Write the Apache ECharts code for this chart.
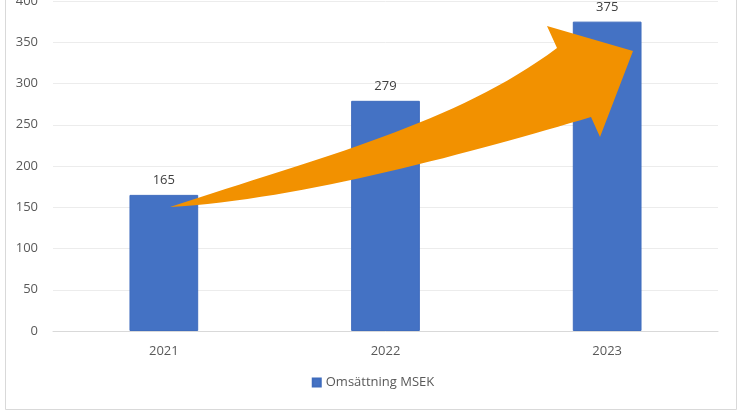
<!DOCTYPE html>
<html>
<head>
<meta charset="utf-8">
<script src="https://cdn.jsdelivr.net/npm/echarts@6/dist/echarts.min.js"></script>
<style>html,body{margin:0;padding:0;background:#fff;}#c{width:746px;height:419px;}</style>
</head>
<body>
<div id="c"></div>
<script>
const categories = ['2021', '2022', '2023'];
const revenue = [165, 279, 375];
const seriesName = 'Omsättning MSEK';
const yTicks = { min: 0, max: 400, interval: 50 };

const arrowPath = 'M170,207 C320,157.5 457,123 557,48 L547,26 L633,51 L600,137 L591,117 C480,150 300,200 170,207 Z';

const chart = echarts.init(document.getElementById('c'), null, { renderer: 'canvas' });
const font = '"Open Sans", "DejaVu Sans", sans-serif';
chart.setOption({
  animation: false,
  backgroundColor: '#ffffff',
  textStyle: { fontFamily: font },
  grid: { left: 53, right: 28, top: 1, bottom: 88, containLabel: false, outerBoundsMode: 'none' },
  legend: {
    data: [seriesName],
    bottom: 25,
    left: 'center',
    icon: 'rect',
    itemWidth: 8,
    itemHeight: 8,
    itemGap: 4,
    textStyle: { color: '#595959', fontSize: 13, fontFamily: font }
  },
  xAxis: {
    type: 'category',
    data: categories,
    axisLine: { lineStyle: { color: '#d9d9d9', width: 1 } },
    axisTick: { show: false },
    axisLabel: { color: '#595959', fontSize: 13, margin: 14, fontFamily: font }
  },
  yAxis: {
    type: 'value',
    min: yTicks.min,
    max: yTicks.max,
    interval: yTicks.interval,
    axisLine: { show: false },
    axisTick: { show: false },
    axisLabel: { color: '#595959', fontSize: 13, margin: 15, fontFamily: font },
    splitLine: { lineStyle: { color: '#ececec', width: 1 } }
  },
  series: [
    {
      name: seriesName,
      type: 'bar',
      data: revenue,
      barWidth: '31%',
      itemStyle: { color: '#4472C4', borderColor: '#3f6cbd', borderWidth: 1 },
      label: {
        show: true,
        position: 'top',
        distance: 8,
        color: '#404040',
        fontSize: 13,
        fontFamily: font
      }
    },
    {
      name: 'arrow',
      type: 'custom',
      coordinateSystem: 'none',
      silent: true,
      z: 100,
      data: [0],
      renderItem: function () {
        return {
          type: 'path',
          shape: { pathData: arrowPath },
          style: { fill: '#F29100', stroke: 'none' }
        };
      }
    }
  ],
  graphic: [
    {
      type: 'rect',
      silent: true,
      shape: { x: 5.5, y: -10, width: 731, height: 419.5 },
      style: { fill: 'none', stroke: '#d9d9d9', lineWidth: 1 },
      z: 0
    }
  ]
});
</script>
</body>
</html>
